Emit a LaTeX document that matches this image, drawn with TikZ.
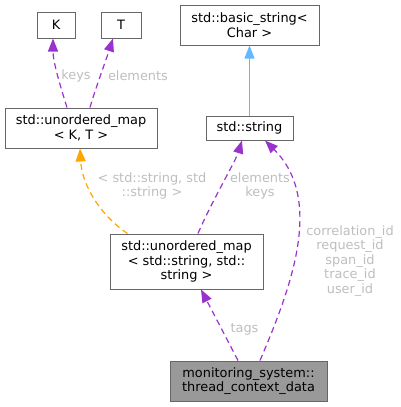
\documentclass[tikz,border=0pt]{standalone}
\usepackage{fontspec}
\setmainfont{DejaVu Sans}
\usetikzlibrary{arrows.meta,calc}
\definecolor{edgepurple}{HTML}{9A32CD}
\definecolor{edgeorange}{HTML}{FFA500}
\definecolor{edgeblue}{HTML}{63B8FF}
\definecolor{boxgray}{HTML}{666666}
\definecolor{hlgray}{HTML}{999999}
\definecolor{lblgray}{HTML}{BEBEBE}
\begin{document}
\begin{tikzpicture}[x=1pt,y=-1pt,
  font=\fontsize{12.9}{14.5}\selectfont,
  box/.style={draw=boxgray, fill=white, line width=1pt, inner sep=0pt, align=center},
  lbl/.style={text=lblgray, align=center, inner sep=0pt},
  tip/.style={-{Triangle[length=13pt,width=10pt]}},
  dedge/.style={tip, line width=1.2pt, dash pattern=on 6pt off 4pt},
]
\useasboundingbox (0,0) rectangle (400,407);
\node[box, minimum width=38pt, minimum height=26pt] (K) at (56,25) {K};
\node[box, minimum width=40pt, minimum height=26pt] (T) at (121,25) {T};
\node[box, minimum width=139pt, minimum height=40pt] (bs) at (249.5,25) {std::basic\_string<\\Char >};
\node[box, minimum width=87pt, minimum height=24pt] (str) at (249.5,128) {std::string};
\node[box, minimum width=152pt, minimum height=40pt] (mkt) at (81,128) {std::unordered\_map\\< K, T >};
\node[box, minimum width=153pt, minimum height=55pt] (mss) at (186.5,261.5) {std::unordered\_map\\< std::string, std::\\string >};
\node[box, fill=hlgray, minimum width=157pt, minimum height=40pt] (ctx) at (248.5,381) {monitoring\_system::\\thread\_context\_data};

% edges (arrow at target end)
\draw[dedge, draw=edgepurple] ([xshift=-14pt]mkt.north) .. controls (60,85) and (53,62) .. ([xshift=-3pt]K.south);
\draw[dedge, draw=edgepurple] ([xshift=9pt]mkt.north) .. controls (95,90) and (106,60) .. ([xshift=-8pt]T.south);
\draw[dedge, draw=edgeorange] ([xshift=-59pt]mss.north) .. controls (100,215) and (82,185) .. ([xshift=-1pt]mkt.south);
\draw[tip, line width=1.2pt, draw=edgeblue] (str.north) -- (bs.south);
\draw[dedge, draw=edgepurple] ([xshift=11.5pt]mss.north) .. controls (210,205) and (236,160) .. ([xshift=-7.5pt]str.south);
\draw[dedge, draw=edgepurple] ([xshift=11.5pt]ctx.north) .. controls (290,290) and (325,200) .. ([xshift=15.5pt]str.south);
\draw[dedge, draw=edgepurple] ([xshift=-10.5pt]ctx.north) -- ([xshift=14.5pt]mss.south);

% labels
\node[lbl] (lkeys) at (76,76) {keys};
\node[lbl] (lelem) at (138,76) {elements};
\node[lbl] (lss) at (152,186) {< std::string, std\\::string >};
\node[lbl] (lek) at (260,186) {elements\\keys};
\node[lbl] (lids) at (350,261) {correlation\_id\\request\_id\\span\_id\\trace\_id\\user\_id};
\node[lbl] (ltags) at (244.5,329) {tags};
\end{tikzpicture}
\end{document}
